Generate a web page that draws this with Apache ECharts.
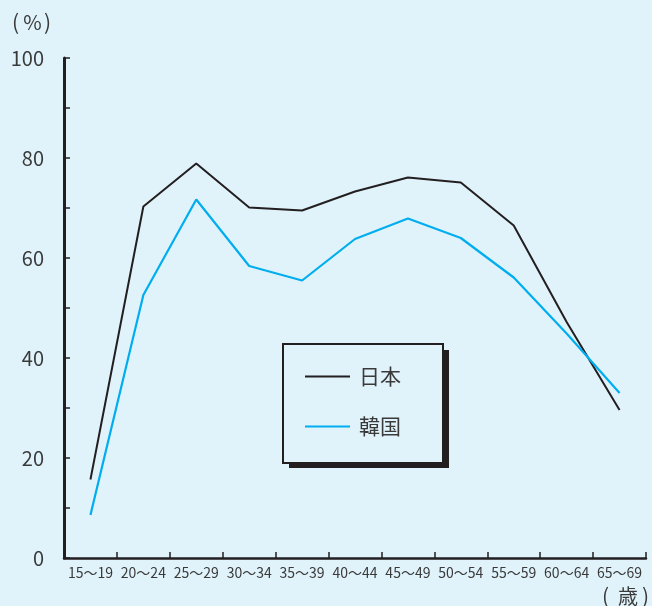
<!DOCTYPE html>
<html>
<head>
<meta charset="utf-8">
<script src="https://cdn.jsdelivr.net/npm/echarts@6/dist/echarts.min.js"></script>
<style>
  html, body { margin: 0; padding: 0; background: #e0f3fb; }
  #chart { width: 652px; height: 606px; }
</style>
</head>
<body>
<div id="chart"></div>
<script>
// Age groups on the horizontal axis
const ageGroups = ['15〜19', '20〜24', '25〜29', '30〜34', '35〜39', '40〜44',
                   '45〜49', '50〜54', '55〜59', '60〜64', '65〜69'];
// Female labour force participation rate by age group (%)
const japanRates = [15.7, 70.3, 78.9, 70.1, 69.5, 73.3, 76.1, 75.1, 66.5, 47.2, 29.6];
const koreaRates = [8.6, 52.6, 71.7, 58.4, 55.5, 63.8, 67.9, 64.0, 56.1, 44.9, 33.0];
// Series names
const seriesNames = ['日本', '韓国'];

const FONT = '"Noto Sans CJK JP", "Noto Sans", sans-serif';
const INK = '#231f20';
const TEXT = '#3a3a3a';
const BG = '#e0f3fb';

const chart = echarts.init(document.getElementById('chart'), null, { renderer: 'canvas' });

// small helper for the unit captions, drawn piece by piece to keep the brackets tight
function caption(text, x, y, size, align) {
  return {
    type: 'text',
    silent: true,
    z: 10,
    style: { text: text, x: x, y: y, font: size + 'px ' + FONT, fill: TEXT,
             textAlign: align, textVerticalAlign: 'middle' }
  };
}

chart.setOption({
  backgroundColor: BG,
  animation: false,
  textStyle: { fontFamily: FONT },
  grid: { left: 64, right: 6, top: 58, bottom: 48, containLabel: false },
  xAxis: {
    type: 'category',
    data: ageGroups,
    boundaryGap: true,
    axisLine: { lineStyle: { color: INK, width: 2.5 } },
    axisTick: { show: true, inside: true, length: 6, interval: 0, lineStyle: { color: INK, width: 1.5 } },
    axisLabel: { interval: 0, margin: 8, fontSize: 14, color: TEXT, fontFamily: FONT }
  },
  yAxis: {
    type: 'value',
    min: 0,
    max: 100,
    interval: 10,
    splitLine: { show: false },
    axisLine: { show: true, lineStyle: { color: INK, width: 3 } },
    axisTick: { show: true, inside: true, length: 6, lineStyle: { color: INK, width: 1.5 } },
    axisLabel: {
      margin: 20,
      fontSize: 20,
      color: TEXT,
      fontFamily: FONT,
      formatter: v => (v % 20 === 0 ? String(v) : '')
    }
  },
  legend: {
    data: seriesNames,
    orient: 'vertical',
    left: 283,
    top: 344,
    z: 6,
    padding: [22, 42, 26, 22],
    itemWidth: 45,
    itemHeight: 20,
    itemGap: 29,
    icon: 'path://M0,8L45,8L45,10L0,10Z',
    backgroundColor: BG,
    borderColor: INK,
    borderWidth: 2,
    textStyle: { fontSize: 21, color: TEXT, fontFamily: FONT, lineHeight: 20, padding: [0, 0, 0, 4] }
  },
  graphic: [
    // solid drop shadow behind the legend box
    {
      type: 'rect',
      silent: true,
      z: 1,
      shape: { x: 289, y: 350, width: 160, height: 118 },
      style: { fill: INK }
    },
    caption('(', 12, 22, 21, 'left'),
    caption('%', 32.5, 22, 20, 'center'),
    caption(')', 51, 22, 21, 'right'),
    caption('(', 602, 596, 21, 'left'),
    caption('歳', 628, 596, 20, 'center'),
    caption(')', 649, 596, 21, 'right')
  ],
  series: [
    {
      name: seriesNames[0],
      type: 'line',
      data: japanRates,
      symbol: 'none',
      lineStyle: { color: INK, width: 2 },
      itemStyle: { color: INK }
    },
    {
      name: seriesNames[1],
      type: 'line',
      data: koreaRates,
      symbol: 'none',
      lineStyle: { color: '#00aeef', width: 2.2 },
      itemStyle: { color: '#00aeef' }
    }
  ]
});
</script>
</body>
</html>
